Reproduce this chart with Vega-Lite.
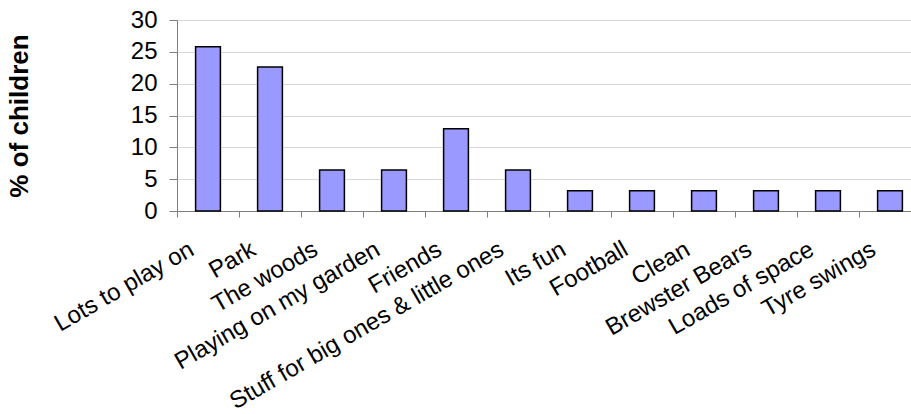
{
  "$schema": "https://vega.github.io/schema/vega-lite/v6.json",
  "width": 744,
  "height": 191,
  "autosize": {"type": "none"},
  "padding": {"left": 177, "top": 20, "right": 0, "bottom": 203},
  "background": "white",
  "config": {
    "view": {"stroke": null},
    "font": "Liberation Sans"
  },
  "data": {
    "values": [
      {"category": "Lots to play on", "percent": 25.8},
      {"category": "Park", "percent": 22.6},
      {"category": "The woods", "percent": 6.45},
      {"category": "Playing on my garden", "percent": 6.45},
      {"category": "Friends", "percent": 12.9},
      {"category": "Stuff for big ones & little ones", "percent": 6.45},
      {"category": "Its fun", "percent": 3.2},
      {"category": "Football", "percent": 3.2},
      {"category": "Clean", "percent": 3.2},
      {"category": "Brewster Bears", "percent": 3.2},
      {"category": "Loads of space", "percent": 3.2},
      {"category": "Tyre swings", "percent": 3.2}
    ]
  },
  "layer": [
    {
      "mark": {"type": "bar", "width": {"band": 0.4}, "color": "#9999FF", "stroke": "#000000", "strokeWidth": 1.5},
      "encoding": {
        "x": {
          "field": "category", "type": "nominal", "sort": null,
          "scale": {"paddingInner": 0, "paddingOuter": 0},
          "axis": {
            "title": null, "labelAngle": -30, "labelFontSize": 24, "labelColor": "#000000",
            "ticks": false, "domain": true, "domainColor": "#808080", "labelPadding": 26, "labelOffset": -22,
            "labelAlign": "right", "labelBaseline": "top", "labelOverlap": false, "labelLimit": 500
          }
        },
        "y": {
          "field": "percent", "type": "quantitative",
          "scale": {"domain": [0, 30], "nice": false},
          "axis": {
            "title": "% of children", "titleFontSize": 26, "titleFontWeight": "bold", "titleColor": "#000000",
            "titlePadding": 98, "values": [0, 5, 10, 15, 20, 25, 30], "labelOverlap": false,
            "labelFontSize": 24, "labelColor": "#000000", "labelPadding": 12,
            "tickSize": 8, "tickColor": "#808080", "domainColor": "#808080",
            "grid": true, "gridColor": "#d9d9d9"
          }
        }
      }
    },
    {
      "mark": {"type": "bar", "opacity": 0},
      "encoding": {
        "x": {
          "field": "category", "type": "nominal", "sort": null,
          "axis": {
            "title": null, "labels": false, "bandPosition": 0, "ticks": true, "tickSize": 6,
            "tickColor": "#808080", "domain": false, "orient": "bottom"
          }
        },
        "y": {
          "field": "percent", "type": "quantitative",
          "axis": {
            "title": "% of children", "titleFontSize": 26, "titleFontWeight": "bold", "titleColor": "#000000",
            "titlePadding": 98, "values": [0, 5, 10, 15, 20, 25, 30], "labelOverlap": false,
            "labelFontSize": 24, "labelColor": "#000000", "labelPadding": 12,
            "tickSize": 8, "tickColor": "#808080", "domainColor": "#808080",
            "grid": true, "gridColor": "#d9d9d9"
          }
        }
      }
    }
  ],
  "resolve": {"axis": {"x": "independent"}}
}
